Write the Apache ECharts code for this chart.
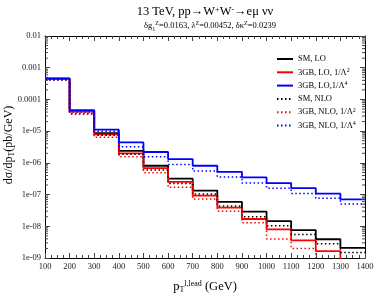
<!DOCTYPE html>
<html><head><meta charset="utf-8">
<script src="https://cdn.jsdelivr.net/npm/echarts@6/dist/echarts.min.js"></script>
<style>html,body{margin:0;padding:0;background:#fff}#c{width:374px;height:293px}</style>
</head><body><div id="c"></div>
<script>
// bin edges (GeV)
const binEdges = [100,200,300,400,500,600,700,800,900,1000,1100,1200,1300,1400];
// series values (pb/GeV), one per bin
const smLO   = [4.5e-4, 4.3e-5, 8.7e-6, 2.4e-6, 8.1e-7, 3.2e-7, 1.34e-7, 5.9e-8, 2.9e-8, 1.45e-8, 7.6e-9, 3.9e-9, 2.1e-9];
const gb2LO  = [4.4e-4, 4.1e-5, 7.9e-6, 2.0e-6, 6.8e-7, 2.5e-7, 9.3e-8, 3.9e-8, 1.7e-8, 8.0e-9, 3.6e-9, 1.65e-9, 6e-10];
const gb4LO  = [4.6e-4, 4.6e-5, 1.11e-5, 4.4e-6, 2.2e-6, 1.32e-6, 8.1e-7, 5.2e-7, 3.5e-7, 2.3e-7, 1.6e-7, 1.07e-7, 7.1e-8];
const smNLO  = [4.2e-4, 3.6e-5, 7.4e-6, 1.86e-6, 5.9e-7, 2.25e-7, 1.04e-7, 4.4e-8, 2.0e-8, 1.04e-8, 5.5e-9, 2.8e-9, 1.5e-9];
const gb2NLO = [4.1e-4, 3.4e-5, 6.4e-6, 1.56e-6, 4.9e-7, 1.7e-7, 7.2e-8, 3.0e-8, 1.3e-8, 4.0e-9, 2.0e-9, 7e-10, 5e-10];
const gb4NLO = [4.2e-4, 4.0e-5, 9.9e-6, 3.2e-6, 1.55e-6, 8.9e-7, 5.5e-7, 3.6e-7, 2.3e-7, 1.57e-7, 1.09e-7, 7.6e-8, 5.0e-8];
// tick labels
const xTickLabels = ['100','200','300','400','500','600','700','800','900','1000','1100','1200','1300','1400'];
const yTickLabels = ['1e-09','1e-08','1e-07','1e-06','1e-05','0.0001','0.001','0.01'];
const seriesNames = ['SM, LO','3GB, LO, 1/Λ2','3GB, LO,1/Λ4','SM, NLO','3GB, NLO, 1/Λ2','3GB, NLO, 1/Λ4'];

const FONT = 'Liberation Serif';
const chart = echarts.init(document.getElementById('c'), null, {renderer:'canvas'});

function stepData(vals){
  const d = vals.map((v,i)=>[binEdges[i], v]);
  d.push([binEdges[binEdges.length-1], vals[vals.length-1]]);
  return d;
}
// log minor ticks 2..9 x 10^k
const yMinor = [];
for (let k=-9;k<=-3;k++) for (let m=2;m<=9;m++) yMinor.push(m*Math.pow(10,k));

const styles = [
  {c:'#000000', t:'solid', w:1.8},
  {c:'#ff0000', t:'solid', w:1.8},
  {c:'#0000ff', t:'solid', w:1.8},
  {c:'#000000', t:[1.5,2.5], w:1.5},
  {c:'#ff0000', t:[1.5,2.5], w:1.5},
  {c:'#0000ff', t:[1.5,2.5], w:1.5}
];
const allVals = [smLO, gb2LO, gb4LO, smNLO, gb2NLO, gb4NLO];
const lineSeries = allVals.map((vals,i)=>({
  name: seriesNames[i], type:'line', step:'end', data: stepData(vals),
  symbol:'none', showSymbol:false, animation:false,
  lineStyle:{color:styles[i].c, type:styles[i].t, width:styles[i].w},
  itemStyle:{color:styles[i].c}, z: 3
}));

const axisCommonX = {
  type:'value', min:100, max:1400, interval:100,
  axisLine:{show:true, onZero:false, lineStyle:{color:'#000', width:1}},
  axisTick:{show:true, inside:true, length:5, lineStyle:{color:'#444'}},
  minorTick:{show:true, splitNumber:4, length:3, lineStyle:{color:'#444'}},
  splitLine:{show:false}
};
const axisCommonY = {
  type:'log', logBase:10, min:1e-9, max:1e-2, splitNumber:7,
  axisLine:{show:true, onZero:false, lineStyle:{color:'#000', width:1}},
  axisTick:{show:true, inside:true, length:5, lineStyle:{color:'#444'}},
  splitLine:{show:false}
};

const option = {
  animation:false,
  backgroundColor:'#fff',
  grid:{left:45, right:9, top:36, bottom:35, containLabel:false, outerBoundsMode:'none'},
  xAxis:[
    Object.assign({}, axisCommonX, {position:'bottom',
      axisLabel:{show:true, fontFamily:FONT, fontSize:8.5, color:'#222', margin:4,
        formatter:(v)=>xTickLabels[Math.round((v-100)/100)] || ''},
      name:'p{sub|T}{sup|l,lead} (GeV)', nameLocation:'middle', nameGap:22,
      nameTextStyle:{fontFamily:FONT, fontSize:12.5, color:'#000', padding:[0,0,0,0],
        rich:{sub:{fontFamily:FONT, fontSize:8, verticalAlign:'bottom', lineHeight:14},
              sup:{fontFamily:FONT, fontSize:8, verticalAlign:'top', lineHeight:14}}}
    }),
    Object.assign({}, axisCommonX, {position:'top', axisLabel:{show:false}})
  ],
  yAxis:[
    Object.assign({}, axisCommonY, {position:'left',
      axisLabel:{show:true, fontFamily:FONT, fontSize:8.5, color:'#222', margin:4,
        formatter:(v)=>{const k=Math.round(Math.log10(v))+9; return yTickLabels[k]||'';}}
    }),
    Object.assign({}, axisCommonY, {position:'right', axisLabel:{show:false}})
  ],
  legend:{
    data: seriesNames, orient:'vertical', left:271, top:49,
    itemWidth:16, itemHeight:10, itemGap:3.3,
    itemStyle:{opacity:0, borderWidth:0},
    textStyle:{fontFamily:FONT, fontSize:8.5, color:'#000', lineHeight:10,
      rich:{sup:{fontFamily:FONT, fontSize:6, verticalAlign:'top', lineHeight:6}}},
    formatter:(n)=>{const m=n.match(/^(.*Λ)(\d)$/); return m ? m[1]+'{sup|'+m[2]+'}' : n;}
  },
  graphic:[
    {type:'text', x:205, y:12, style:{
      text:'13 TeV, pp→W{sup|+}W{sup|-}→eμ νν', fill:'#000', align:'center', verticalAlign:'middle',
      font:'12.5px "Liberation Serif"',
      rich:{sup:{font:'8px "Liberation Serif"', verticalAlign:'top', lineHeight:8}}
    }},
    {type:'text', x:210, y:26, style:{
      text:'δg{sub|1}{sup|Z}=0.0163, λ{sup|Z}=0.00452, δκ{sup|Z}=0.0239', fill:'#000',
      align:'center', verticalAlign:'middle',
      font:'8.5px "Liberation Serif"',
      rich:{sup:{font:'6px "Liberation Serif"', verticalAlign:'top', lineHeight:6},
            sub:{font:'6px "Liberation Serif"', verticalAlign:'bottom', lineHeight:12}}
    }},
    {type:'text', x:9, y:145, rotation:Math.PI/2, style:{
      text:'dσ/dp{sub|T}(pb/GeV)', fill:'#000', align:'center', verticalAlign:'middle',
      font:'12px "Liberation Serif"',
      rich:{sub:{font:'8px "Liberation Serif"', verticalAlign:'bottom', lineHeight:14}}
    }}
  ],
  series: lineSeries.concat([{
    type:'custom', name:'yminor', coordinateSystem:'cartesian2d', xAxisIndex:0, yAxisIndex:0,
    data: yMinor.map(v=>[100, v]), silent:true, clip:false, z:5,
    renderItem:(params, api)=>{
      const y = api.coord([100, api.value(1)])[1];
      const cs = params.coordSys;
      return {type:'group', children:[
        {type:'line', shape:{x1:cs.x, y1:y, x2:cs.x+3, y2:y}, style:{stroke:'#444', lineWidth:1}},
        {type:'line', shape:{x1:cs.x+cs.width-3, y1:y, x2:cs.x+cs.width, y2:y}, style:{stroke:'#444', lineWidth:1}}
      ]};
    }
  }])
};
chart.setOption(option);
</script></body></html>
